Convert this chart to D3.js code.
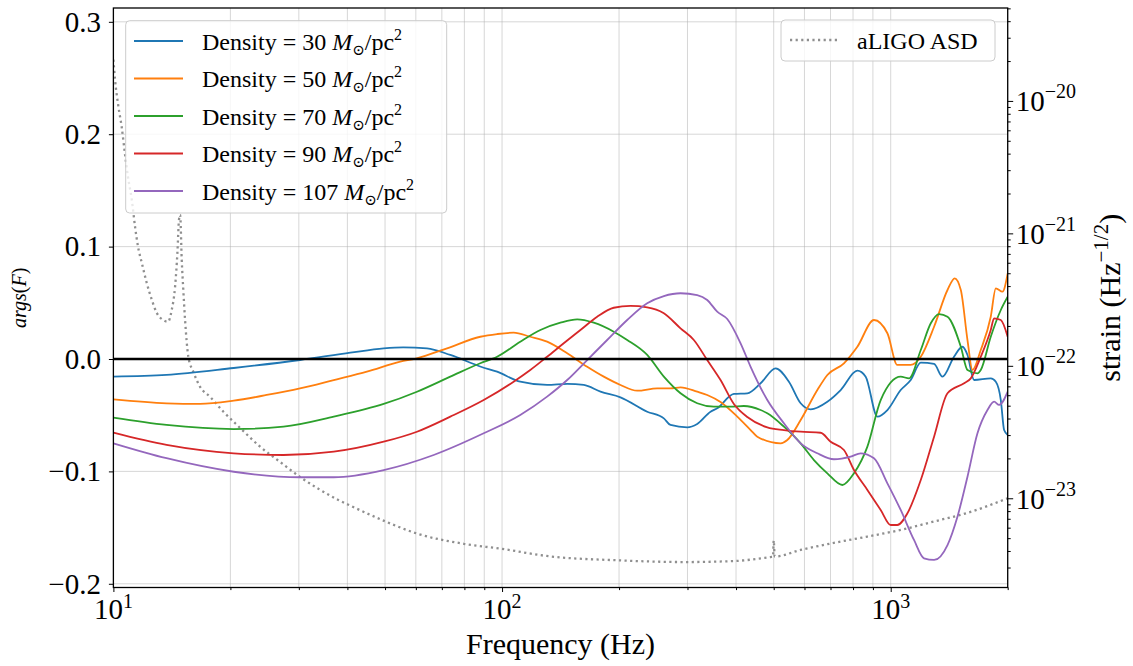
<!DOCTYPE html>
<html>
<head>
<meta charset="utf-8">
<script src="https://cdn.jsdelivr.net/npm/d3@7"></script>
<style>
  body { margin: 0; background: #fff; }
  svg { display: block; }
  svg text { font-family: "Liberation Serif", "DejaVu Serif", serif; }
</style>
</head>
<body>
<svg id="chart" width="1133" height="666"></svg>
<script>
// ---- Phase of the dephasing factor, args(F), per dark-matter density ----
const densities = [30, 50, 70, 90, 107];
const colors = ["#1f77b4", "#ff7f0e", "#2ca02c", "#d62728", "#9467bd"];

const freq30 = [10, 13.7, 20.4, 30.2, 40.7, 49.6, 55.7, 64.1, 73.6, 88.6, 97.1, 111.4, 130.6, 147.1, 162.3, 179.2, 201.7, 236.3, 260.8, 271.3, 299.6, 317.8, 343.9, 357.8, 394.9, 427.6, 462.7, 505.6, 547.2, 586.6, 622.3, 687.1, 743.5, 820.7, 862.2, 924.1, 980.6, 1061, 1126, 1195, 1293, 1359, 1455, 1530, 1576, 1639, 1809, 1864, 1920, 1958, 2000];
const arg30 = [-0.0157, -0.0142, -0.0080, -0.0009, 0.0056, 0.0095, 0.0104, 0.0095, 0.0036, -0.0071, -0.0113, -0.0202, -0.0231, -0.0222, -0.0231, -0.0291, -0.0341, -0.0469, -0.0528, -0.0587, -0.0608, -0.0578, -0.0469, -0.0439, -0.0311, -0.0305, -0.0216, -0.0083, -0.0202, -0.0394, -0.0448, -0.0380, -0.0276, -0.0104, -0.0157, -0.0513, -0.0454, -0.0276, -0.0187, -0.0033, -0.0044, -0.0157, 0.0020, 0.0109, 0.0036, -0.0187, -0.0172, -0.0202, -0.0365, -0.0632, -0.0676];

const freq50 = [10, 13.7, 16.7, 20.4, 24.8, 30.2, 36.9, 44.9, 54.7, 60, 72.2, 87.9, 97.1, 107.1, 118.2, 130.6, 147.1, 165.6, 182.7, 201.7, 222.7, 250.7, 271.3, 287.9, 317.8, 337.2, 364.9, 402.9, 436.1, 453.7, 520.9, 542, 586.6, 647.5, 687.1, 758, 820.7, 905.7, 980.6, 1040, 1126, 1195, 1293, 1400, 1461, 1515, 1576, 1623, 1705, 1809, 1864, 1939, 2000];
const arg50 = [-0.0359, -0.0394, -0.0400, -0.0371, -0.0320, -0.0261, -0.0187, -0.0113, -0.0024, 0.0004, 0.0095, 0.0198, 0.0222, 0.0234, 0.0198, 0.0154, 0.0051, -0.0069, -0.0157, -0.0231, -0.0282, -0.0261, -0.0261, -0.0252, -0.0291, -0.0320, -0.0383, -0.0513, -0.0632, -0.0691, -0.0750, -0.0721, -0.0543, -0.0276, -0.0142, -0.0038, 0.0109, 0.0347, 0.0229, -0.0053, -0.0053, 0.0020, 0.0287, 0.0614, 0.0718, 0.0614, 0.0169, -0.0098, 0.0080, 0.0376, 0.0629, 0.0599, 0.0762];

const freq70 = [10, 13.7, 20.4, 27.4, 36.9, 49.6, 60.4, 73.6, 87.9, 97.1, 111.4, 125.5, 141.3, 156.1, 172.2, 193.8, 209.9, 236.3, 260.8, 287.9, 317.8, 350.7, 387.3, 419, 462.7, 481.4, 531.2, 586.6, 634.6, 687.1, 750.9, 804.4, 871, 942.4, 1061, 1115, 1195, 1268, 1332, 1400, 1515, 1576, 1672, 1705, 1809, 1920, 2000];
const arg70 = [-0.0522, -0.0587, -0.0623, -0.0602, -0.0513, -0.0400, -0.0291, -0.0157, -0.0038, 0.0020, 0.0154, 0.0258, 0.0323, 0.0353, 0.0323, 0.0243, 0.0169, 0.0036, -0.0157, -0.0305, -0.0394, -0.0424, -0.0424, -0.0418, -0.0454, -0.0483, -0.0602, -0.0750, -0.0899, -0.1017, -0.1121, -0.1017, -0.0780, -0.0365, -0.0157, -0.0172, 0.0080, 0.0318, 0.0400, 0.0376, 0.0109, -0.0098, -0.0127, -0.0098, 0.0198, 0.0436, 0.0554];

const freq90 = [10, 13.7, 20.4, 27.4, 36.9, 49.6, 60.4, 73.6, 89.7, 107.1, 118.2, 130.6, 144.1, 159.1, 175.7, 193.8, 214, 236.3, 260.8, 287.9, 311.5, 337.2, 364.9, 394.9, 427.6, 481.4, 531.2, 586.6, 660.3, 700.6, 758, 804.4, 871, 942.4, 1000, 1040, 1104, 1195, 1293, 1400, 1545, 1607, 1705, 1809, 1845, 1920, 2000];
const arg90 = [-0.0656, -0.0765, -0.0839, -0.0854, -0.0825, -0.0736, -0.0647, -0.0513, -0.0365, -0.0202, -0.0098, 0.0020, 0.0140, 0.0258, 0.0376, 0.0456, 0.0472, 0.0460, 0.0407, 0.0273, 0.0169, -0.0009, -0.0187, -0.0400, -0.0516, -0.0608, -0.0632, -0.0647, -0.0656, -0.0736, -0.0810, -0.0988, -0.1165, -0.1343, -0.1477, -0.1477, -0.1373, -0.1077, -0.0691, -0.0305, -0.0216, -0.0172, 0.0020, 0.0258, 0.0362, 0.0347, 0.0198];

const freq107 = [10, 13.7, 20.4, 30.2, 36.9, 49.6, 66.7, 89.7, 111.4, 130.6, 147.1, 165.6, 186.4, 209.9, 236.3, 260.8, 287.9, 317.8, 337.2, 357.8, 379.7, 410.9, 436.1, 481.4, 531.2, 586.6, 647.5, 714.5, 788.8, 837, 905.7, 980.6, 1061, 1148, 1218, 1293, 1400, 1485, 1576, 1672, 1774, 1845, 1901, 2000];
const arg107 = [-0.0750, -0.0883, -0.1003, -0.1052, -0.1052, -0.0988, -0.0854, -0.0661, -0.0498, -0.0335, -0.0187, -0.0009, 0.0169, 0.0347, 0.0496, 0.0560, 0.0585, 0.0569, 0.0525, 0.0421, 0.0356, 0.0140, -0.0069, -0.0365, -0.0572, -0.0750, -0.0839, -0.0892, -0.0869, -0.0839, -0.0883, -0.1106, -0.1343, -0.1610, -0.1773, -0.1788, -0.1655, -0.1403, -0.1047, -0.0661, -0.0454, -0.0380, -0.0409, -0.0291];

// ---- Detector amplitude spectral density (right axis) ----
const asdFreq = [10, 10.1, 10.3, 10.5, 10.7, 10.9, 11.15, 11.37, 11.57, 11.83, 12.18, 12.55, 12.93, 13.42, 13.82, 14.13, 14.41, 14.61, 14.75, 14.85, 14.99, 15.13, 15.29, 15.59, 16.06, 16.71, 17.74, 19.19, 21.18, 23.85, 26.85, 30.2, 34.0, 37.9, 40.1, 50.2, 60.5, 79.8, 100, 130, 199, 296, 396, 491, 498, 500, 503, 586, 713, 871, 1061, 1290, 1576, 2000];
const asdStrain = [2.05e-20, 1.44e-20, 9.08e-21, 6.41e-21, 4.06e-21, 2.68e-21, 1.80e-21, 1.12e-21, 7.93e-22, 6.00e-22, 4.24e-22, 3.16e-22, 2.51e-22, 2.22e-22, 2.15e-22, 2.65e-22, 3.95e-22, 7.13e-22, 1.27e-21, 1.38e-21, 6.32e-22, 3.75e-22, 2.22e-22, 1.17e-22, 9.0e-23, 6.94e-23, 5.83e-23, 4.5e-23, 3.40e-23, 2.45e-23, 1.88e-23, 1.45e-23, 1.16e-23, 9.72e-24, 8.98e-24, 6.67e-24, 5.41e-24, 4.53e-24, 4.15e-24, 3.67e-24, 3.40e-24, 3.30e-24, 3.36e-24, 3.6e-24, 3.62e-24, 4.8e-24, 3.63e-24, 4.07e-24, 4.6e-24, 5.14e-24, 5.77e-24, 6.67e-24, 7.76e-24, 1.0e-23];

// ---- Tick values and labels ----
const xMajorTicks = [10, 100, 1000];
const xTickExp = ["1", "2", "3"];
const yLeftTicks = [-0.2, -0.1, 0.0, 0.1, 0.2, 0.3];
const yLeftLabels = ["\u22120.2", "\u22120.1", "0.0", "0.1", "0.2", "0.3"];
const yRightTicks = [1e-23, 1e-22, 1e-21, 1e-20];
const yRightExp = ["\u221223", "\u221222", "\u221221", "\u221220"];

const series = [
  { f: freq30, v: arg30 },
  { f: freq50, v: arg50 },
  { f: freq70, v: arg70 },
  { f: freq90, v: arg90 },
  { f: freq107, v: arg107 }
];

// ---- Layout and scales ----
const FONT = "'Liberation Serif', 'DejaVu Serif', serif";
const plot = { left: 113.4, right: 1007.7, top: 8, bottom: 587.5 };
const svg = d3.select("#chart");

const x = d3.scaleLog().domain([10, 2000]).range([plot.left, plot.right]);
const yL = d3.scaleLinear().domain([-0.2033, 0.3123]).range([plot.bottom, plot.top]);
const yR = d3.scaleLog().domain([2.12e-24, 5.03e-20]).range([plot.bottom, plot.top]);

svg.append("defs").append("clipPath").attr("id", "plotClip")
  .append("rect")
  .attr("x", plot.left).attr("y", plot.top)
  .attr("width", plot.right - plot.left).attr("height", plot.bottom - plot.top);

// ---- Grid ----
const grid = svg.append("g").attr("stroke", "#b0b0b0").attr("stroke-opacity", 0.5).attr("stroke-width", 1);
grid.selectAll("line.vx").data(x.ticks()).join("line")
  .attr("x1", d => x(d)).attr("x2", d => x(d))
  .attr("y1", plot.top).attr("y2", plot.bottom);
grid.selectAll("line.hy").data(yLeftTicks).join("line")
  .attr("x1", plot.left).attr("x2", plot.right)
  .attr("y1", d => yL(d)).attr("y2", d => yL(d));

const clipped = svg.append("g").attr("clip-path", "url(#plotClip)");

// ---- ASD (dotted, right axis) ----
const asdData = d3.zip(asdFreq, asdStrain);
clipped.append("path")
  .datum(asdData)
  .attr("fill", "none")
  .attr("stroke", "#8f8f8f")
  .attr("stroke-width", 2.3)
  .attr("stroke-dasharray", "2.2,3.4")
  .attr("d", d3.line().x(d => x(d[0])).y(d => yR(d[1])).curve(d3.curveMonotoneX));

// ---- Density curves ----
const argLine = d3.line().x(d => x(d[0])).y(d => yL(d[1])).curve(d3.curveMonotoneX);
series.forEach((s, i) => {
  clipped.append("path")
    .datum(d3.zip(s.f, s.v))
    .attr("fill", "none")
    .attr("stroke", colors[i])
    .attr("stroke-width", 1.8)
    .attr("stroke-linejoin", "round")
    .attr("d", argLine);
});

// ---- Zero reference line ----
svg.append("line")
  .attr("x1", plot.left).attr("x2", plot.right)
  .attr("y1", yL(0)).attr("y2", yL(0))
  .attr("stroke", "#000").attr("stroke-width", 2.6);

// ---- Axes ----
function styleAxis(g) {
  g.select(".domain").remove();
  g.attr("font-family", FONT);
  g.selectAll(".tick line").attr("stroke", "#000").attr("stroke-width", 1);
}

const xMinorTicks = x.ticks().filter(d => !xMajorTicks.includes(d));
svg.append("g").attr("transform", `translate(0,${plot.bottom})`)
  .call(d3.axisBottom(x).tickValues(xMinorTicks).tickSize(2.6).tickSizeOuter(0).tickFormat(""))
  .call(styleAxis);
svg.append("g").attr("transform", `translate(0,${plot.bottom})`)
  .call(d3.axisBottom(x).tickValues(xMajorTicks).tickSize(4.5).tickSizeOuter(0).tickFormat(""))
  .call(styleAxis);

xMajorTicks.forEach((v, i) => {
  const t = svg.append("text")
    .attr("x", x(v)).attr("y", 619)
    .attr("text-anchor", "middle")
    .attr("font-size", 29).attr("fill", "#000");
  t.append("tspan").text("10");
  t.append("tspan").attr("font-size", 20).attr("dy", -11).text(xTickExp[i]);
});

svg.append("g").attr("transform", `translate(${plot.left},0)`)
  .call(d3.axisLeft(yL).tickValues(yLeftTicks).tickSize(4.5).tickSizeOuter(0).tickPadding(8)
    .tickFormat((d, i) => yLeftLabels[i]))
  .call(styleAxis)
  .call(g => g.selectAll("text").attr("font-size", 29).attr("fill", "#000"));

const yRMinor = yR.ticks().filter(d => !yRightTicks.some(t => Math.abs(t - d) / t < 1e-6));
svg.append("g").attr("transform", `translate(${plot.right},0)`)
  .call(d3.axisRight(yR).tickValues(yRMinor).tickSize(3).tickSizeOuter(0).tickFormat(""))
  .call(styleAxis);
svg.append("g").attr("transform", `translate(${plot.right},0)`)
  .call(d3.axisRight(yR).tickValues(yRightTicks).tickSize(5.5).tickSizeOuter(0).tickFormat(""))
  .call(styleAxis);

yRightTicks.forEach((v, i) => {
  const t = svg.append("text")
    .attr("x", plot.right + 8).attr("y", yR(v) + 10.5)
    .attr("font-size", 29).attr("fill", "#000");
  t.append("tspan").text("10");
  t.append("tspan").attr("font-size", 20).attr("dy", -13).text(yRightExp[i]);
});

// ---- Frame ----
svg.append("rect")
  .attr("x", plot.left).attr("y", plot.top)
  .attr("width", plot.right - plot.left).attr("height", plot.bottom - plot.top)
  .attr("fill", "none").attr("stroke", "#000").attr("stroke-width", 1.3);

// ---- Axis titles ----
svg.append("text")
  .attr("x", (plot.left + plot.right) / 2).attr("y", 654)
  .attr("text-anchor", "middle").attr("font-size", 30)
  .text("Frequency (Hz)");

const yTitle = svg.append("text")
  .attr("transform", `translate(26,${(plot.top + plot.bottom) / 2}) rotate(-90)`)
  .attr("text-anchor", "middle").attr("font-size", 20);
yTitle.append("tspan").attr("font-style", "italic").text("args");
yTitle.append("tspan").text("(");
yTitle.append("tspan").attr("font-style", "italic").text("F");
yTitle.append("tspan").text(")");

const rTitle = svg.append("text")
  .attr("transform", `translate(1120,${(plot.top + plot.bottom) / 2}) rotate(-90)`)
  .attr("text-anchor", "middle").attr("font-size", 30);
rTitle.append("tspan").text("strain (Hz");
rTitle.append("tspan").attr("font-size", 21).attr("dy", -12).text("\u22121/2");
rTitle.append("tspan").attr("dy", 12).text(")");

// ---- Legend: density curves ----
const leg = svg.append("g");
leg.append("rect")
  .attr("x", 125.7).attr("y", 20.7).attr("width", 321).attr("height", 192.3)
  .attr("rx", 4).attr("fill", "#fff").attr("fill-opacity", 0.8)
  .attr("stroke", "#cccccc").attr("stroke-width", 1);
densities.forEach((d, i) => {
  const cy = 41 + i * 37.5;
  leg.append("line")
    .attr("x1", 134).attr("x2", 183).attr("y1", cy).attr("y2", cy)
    .attr("stroke", colors[i]).attr("stroke-width", 1.8);
  const t = leg.append("text").attr("x", 202).attr("y", cy + 8.5).attr("font-size", 24);
  t.append("tspan").text(`Density = ${d} `);
  t.append("tspan").attr("font-style", "italic").text("M");
  t.append("tspan").attr("font-size", 15).attr("dy", 5).text("\u2299");
  t.append("tspan").attr("dy", -5).text("/pc");
  t.append("tspan").attr("font-size", 16).attr("dy", -10).text("2");
});

// ---- Legend: ASD ----
const leg2 = svg.append("g");
leg2.append("rect")
  .attr("x", 781).attr("y", 20).attr("width", 214).attr("height", 41)
  .attr("rx", 4).attr("fill", "#fff").attr("fill-opacity", 0.8)
  .attr("stroke", "#cccccc").attr("stroke-width", 1);
leg2.append("line")
  .attr("x1", 790).attr("x2", 837).attr("y1", 40).attr("y2", 40)
  .attr("stroke", "#8f8f8f").attr("stroke-width", 2.3).attr("stroke-dasharray", "2.2,3.4");
leg2.append("text").attr("x", 857).attr("y", 48.5).attr("font-size", 24).text("aLIGO ASD");

// Serif face on every label
svg.selectAll("text").attr("font-family", FONT);
</script>
</body>
</html>
